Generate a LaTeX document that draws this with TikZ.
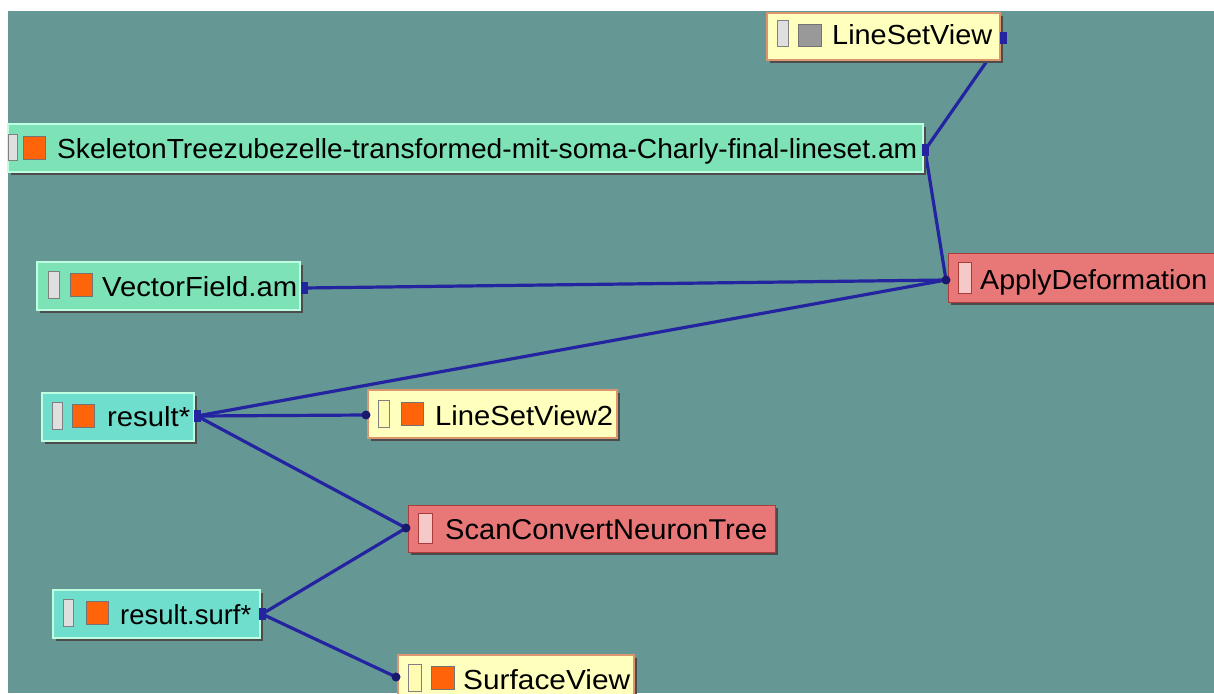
\documentclass[tikz,border=0pt]{standalone}
\usepackage{fontspec}
\setmainfont{Liberation Sans}
\usetikzlibrary{fit}
\definecolor{bgteal}{RGB}{101,152,149}
\definecolor{mint}{RGB}{125,226,182}
\definecolor{mintedge}{RGB}{190,255,225}
\definecolor{cyanish}{RGB}{112,222,204}
\definecolor{paleyellow}{RGB}{255,255,190}
\definecolor{yedge}{RGB}{220,150,110}
\definecolor{salmon}{RGB}{232,120,120}
\definecolor{redge}{RGB}{170,60,60}
\definecolor{wire}{RGB}{36,36,160}
\definecolor{orsq}{RGB}{255,100,10}
\tikzset{
  databox/.style={fill=mint, draw=mintedge, line width=1.5pt, inner sep=0pt},
  resbox/.style={fill=cyanish, draw=mintedge, line width=1.5pt, inner sep=0pt},
  viewbox/.style={fill=paleyellow, draw=yedge, line width=1.5pt, inner sep=0pt},
  modbox/.style={fill=salmon, draw=redge, line width=1pt, inner sep=0pt},
  shadowbox/.style={fill=black!70, inner sep=0pt},
  slot/.style={fill=white!75!gray, draw=gray, line width=0.8pt, inner sep=0pt},
  orange sq/.style={fill=orsq, draw=black!55, line width=1pt, inner sep=0pt},
  gray sq/.style={fill=gray!80, draw=black!55, line width=1pt, inner sep=0pt},
  wireline/.style={draw=wire, line width=3.2pt, line cap=round},
  portsq/.style={fill=wire, inner sep=0pt},
  portdot/.style={circle, fill=wire!70!black, minimum size=9pt, inner sep=0pt},
  lbl/.style={anchor=base west, inner sep=0pt, text=black},
}
% #1 name, #2 style, #3 x1, #4 y1, #5 x2, #6 y2
\newcommand\abox[6]{%
  \node[shadowbox, fit={(#3+3,#4+3) (#5+3,#6+3)}] (#1-sh) {};
  \node[#2, fit={(#3,#4) (#5,#6)}] (#1) {};
}
% #1 name, #2 x, #3 baseline y, #4 width, #5 text
\newcommand\alabel[5]{%
  \node[lbl] (#1) at (#2,#3) {\resizebox{#4pt}{20pt}{#5}};
}
\begin{document}
\begin{tikzpicture}[x=1pt,y=-1pt]
\useasboundingbox (0,0) rectangle (1214,693);
\fill[white] (0,0) rectangle (1214,693);
\fill[bgteal] (8,11) rectangle (1214,693);

% ports
\coordinate (lsv-p) at (1003,38);
\coordinate (skel-p) at (925,150);
\coordinate (vf-p) at (304,288);
\coordinate (apply-p) at (946,280);
\coordinate (res-p) at (197,416);
\coordinate (lsv2-p) at (366,415);
\coordinate (scan-p) at (406,528);
\coordinate (surf-p) at (262,614);
\coordinate (sv-p) at (396,677);

% connectors
\draw[wireline] (skel-p) -- (lsv-p);
\draw[wireline] (skel-p) -- (apply-p);
\draw[wireline] (vf-p) -- (apply-p);
\draw[wireline] (res-p) -- (apply-p);
\draw[wireline] (res-p) -- (lsv2-p);
\draw[wireline] (res-p) -- (scan-p);
\draw[wireline] (surf-p) -- (scan-p);
\draw[wireline] (surf-p) -- (sv-p);

% LineSetView
\abox{lsv}{viewbox}{767}{13}{1000}{60}
\node[slot, fit={(777,20) (788,46)}] (lsv-s) {};
\node[gray sq, fit={(798,25) (821,47)}] (lsv-i) {};
\alabel{lsv-t}{832}{45}{160}{LineSetView}

% Skeleton
\abox{skel}{databox}{8}{124}{923}{172}
\node[slot, fit={(8,134) (17,160)}] (skel-s) {};
\node[orange sq, fit={(23,136) (45,159)}] (skel-i) {};
\alabel{skel-t}{57}{158}{860}{SkeletonTreezubezelle-transformed-mit-soma-Charly-final-lineset.am}

% VectorField
\abox{vf}{databox}{37}{262}{300}{310}
\node[slot, fit={(48,271) (59,298)}] (vf-s) {};
\node[orange sq, fit={(70,273) (92,296)}] (vf-i) {};
\alabel{vf-t}{102}{296}{195}{VectorField.am}

% ApplyDeformation
\abox{apply}{modbox}{948}{253}{1222}{302}
\node[slot, fill=salmon!40!white, draw=redge, fit={(958,262) (971,293)}] (apply-s) {};
\alabel{apply-t}{980}{289}{227}{ApplyDeformation}

% result*
\abox{res}{resbox}{42}{393}{194}{441}
\node[slot, fit={(52,402) (62,429)}] (res-s) {};
\node[orange sq, fit={(72,404) (94,427)}] (res-i) {};
\alabel{res-t}{107}{426}{83}{result*}

% LineSetView2
\abox{lsv2}{viewbox}{368}{390}{617}{438}
\node[slot, fill=white!70!yellow, fit={(378,400) (389,427)}] (lsv2-s) {};
\node[orange sq, fit={(401,402) (423,425)}] (lsv2-i) {};
\alabel{lsv2-t}{435}{425}{178}{LineSetView2}

% ScanConvertNeuronTree
\abox{scan}{modbox}{408}{505}{775}{552}
\node[slot, fill=salmon!40!white, draw=redge, fit={(418,513) (432,543)}] (scan-s) {};
\alabel{scan-t}{445}{539}{322}{ScanConvertNeuronTree}

% result.surf*
\abox{surf}{resbox}{53}{590}{260}{638}
\node[slot, fit={(63,599) (73,626)}] (surf-s) {};
\node[orange sq, fit={(86,601) (108,624)}] (surf-i) {};
\alabel{surf-t}{120}{624}{131}{result.surf*}

% SurfaceView
\abox{sv}{viewbox}{398}{655}{634}{705}
\node[slot, fill=white!70!yellow, fit={(408,664) (421,691)}] (sv-s) {};
\node[orange sq, fit={(431,666) (454,689)}] (sv-i) {};
\alabel{sv-t}{463}{689}{167}{SurfaceView}

% port markers
\node[portsq, minimum width=7pt, minimum height=12pt] (lsv-pm) at (lsv-p) {};
\node[portsq, minimum width=7pt, minimum height=12pt] (skel-pm) at (skel-p) {};
\node[portsq, minimum width=7pt, minimum height=12pt] (vf-pm) at (vf-p) {};
\node[portsq, minimum width=7pt, minimum height=12pt] (res-pm) at (res-p) {};
\node[portsq, minimum width=7pt, minimum height=12pt] (surf-pm) at (surf-p) {};
\node[portdot] (apply-pm) at (apply-p) {};
\node[portdot] (lsv2-pm) at (lsv2-p) {};
\node[portdot] (scan-pm) at (scan-p) {};
\node[portdot] (sv-pm) at (sv-p) {};
\end{tikzpicture}
\end{document}
